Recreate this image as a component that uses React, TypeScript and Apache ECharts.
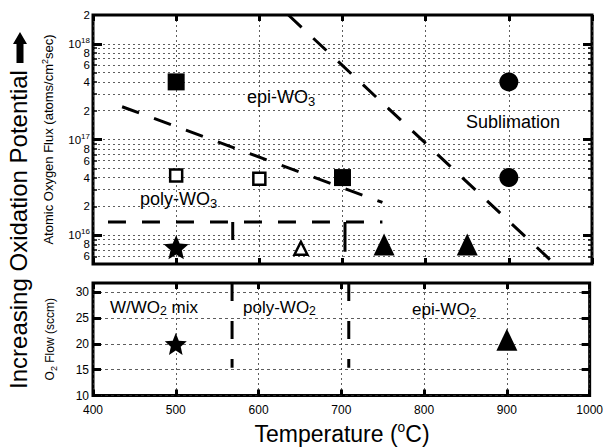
import React, { useEffect, useRef } from "react";
import * as echarts from "echarts";

const FONT = "'Liberation Sans', Arial, Helvetica, sans-serif";

// ---- X axis: temperature (°C) ----
const tempMin = 400;
const tempMax = 1000;

// ---- Top panel: atomic oxygen flux (atoms/cm^2 sec), log scale ----
const fluxMin = 5e15;
const fluxMax = 2e18;
const fluxLabelTicks = [6e15, 8e15, 1e16, 2e16, 4e16, 6e16, 8e16, 1e17, 2e17, 4e17, 6e17, 8e17, 1e18, 2e18];
const fluxMinorTicks = [
  6e15, 7e15, 8e15, 9e15, 1e16, 2e16, 3e16, 4e16, 5e16, 6e16, 7e16, 8e16, 9e16,
  1e17, 2e17, 3e17, 4e17, 5e17, 6e17, 7e17, 8e17, 9e17, 1e18,
];
const fluxMajorTicks = [1e16, 1e17, 1e18];

const epiSquareT = [500, 700];
const epiSquareF = [4e17, 4e16];
const polySquareT = [500, 600];
const polySquareF = [4.2e16, 3.9e16];
const sublimCircleT = [900, 900];
const sublimCircleF = [4e17, 4e16];
const mixStarT = [500];
const mixStarF = [7.5e15];
const polyTriangleT = [650];
const polyTriangleF = [7.3e15];
const epiTriangleT = [750, 850];
const epiTriangleF = [8e15, 8e15];

const epiPolyBoundaryT = [435, 748];
const epiPolyBoundaryF = [2.2e17, 2.2e16];
const sublimBoundaryT = [635, 950];
const sublimBoundaryF = [2e18, 5.5e15];
const wo2BoundaryT = [418, 748];
const wo2BoundaryF = [1.37e16, 1.37e16];
const drop1T = [568, 568];
const drop1F = [1.37e16, 8.9e15];
const drop2T = [703, 703];
const drop2F = [1.37e16, 6.7e15];

// ---- Bottom panel: O2 flow (sccm) ----
const flowMin = 10;
const flowMax = 31.8;
const flowTicks = [10, 15, 20, 25, 30];
const bottomStarT = [500];
const bottomStarF = [20];
const bottomTriT = [900];
const bottomTriF = [20.8];
const mixPolyT = [568, 568];
const mixPolyF = [31.8, 15.4];
const polyEpiT = [709, 709];
const polyEpiF = [31.8, 15.4];

const lg = (v: number) => Math.log10(v);
const ptsLog = (xs: number[], ys: number[]) => xs.map((x, i) => [x, lg(ys[i])]);
const pts = (xs: number[], ys: number[]) => xs.map((x, i) => [x, ys[i]]);

const STAR =
  "path://M50 0 L63.2 31.8 L97.6 34.5 L71.4 57 L79.4 90.5 L50 72.5 L20.6 90.5 L28.6 57 L2.4 34.5 L36.8 31.8 Z";

const dotted = { color: "#333", width: 0.8, type: [2, 3] as any };
const dashed = { color: "#000", width: 3, type: [18, 16] as any };

function logLabel(v: number): string {
  const e = Math.floor(v + 1e-6);
  const m = Math.round(Math.pow(10, v - e));
  if (m === 1) return `{b|10}{s|${e}}`;
  return `{b|${m}}`;
}

export default function App() {
  const ref = useRef<HTMLDivElement>(null);
  useEffect(() => {
    if (!ref.current) return;
    const chart = echarts.init(ref.current, undefined, { renderer: "svg" });

    const xBase = (gridIndex: number, position: string, showLabel: boolean, split: boolean) => ({
      type: "value",
      gridIndex,
      position,
      min: tempMin,
      max: tempMax,
      interval: 100,
      axisLine: { show: false },
      axisTick: { show: true, inside: true, length: 6, lineStyle: { color: "#000", width: 3 } },
      axisLabel: {
        show: showLabel,
        fontSize: 12,
        fontFamily: FONT,
        color: "#000",
        margin: 8,
        formatter: (v: number) => String(v),
      },
      splitLine: { show: split, lineStyle: dotted },
    });

    const yLog = (position: string, ticks: number[], len: number, width: number, labels: boolean) => ({
      type: "value",
      gridIndex: 0,
      position,
      min: lg(fluxMin),
      max: lg(fluxMax),
      axisLine: { show: false },
      axisTick: {
        show: true,
        inside: true,
        length: len,
        customValues: ticks.map(lg),
        lineStyle: { color: "#000", width },
      },
      axisLabel: {
        show: labels,
        customValues: fluxLabelTicks.map(lg),
        formatter: logLabel,
        margin: 3,
        color: "#000",
        fontFamily: FONT,
        fontSize: 11.5,
        rich: {
          b: { fontSize: 11.5, fontFamily: FONT, color: "#000" },
          s: { fontSize: 8, fontFamily: FONT, color: "#000", padding: [0, 0, 7, 0] },
        },
      },
      splitLine: { show: labels, lineStyle: dotted },
    });

    const yFlow = (position: string, labels: boolean) => ({
      type: "value",
      gridIndex: 1,
      position,
      min: flowMin,
      max: flowMax,
      axisLine: { show: false },
      axisTick: {
        show: true,
        inside: true,
        length: 8,
        customValues: flowTicks,
        lineStyle: { color: "#000", width: 3 },
      },
      axisLabel: {
        show: labels,
        customValues: flowTicks,
        margin: 4,
        color: "#000",
        fontFamily: FONT,
        fontSize: 12,
      },
      splitLine: { show: labels, lineStyle: { color: "#333", width: 0.8, type: [3, 3] } },
    });

    const yAxis: any[] = [
      {
        ...yLog("left", fluxMinorTicks, 4, 1.5, true),
        name: "{a|Atomic Oxygen Flux (atoms/cm}{s|2}{a|sec)}",
        nameLocation: "middle",
        nameGap: 36,
        nameRotate: 90,
        nameTextStyle: {
          rich: {
            a: { fontSize: 13, fontFamily: FONT, color: "#000" },
            s: { fontSize: 9, fontFamily: FONT, color: "#000", padding: [0, 0, 8, 0] },
          },
        },
      },
      yLog("left", fluxMajorTicks, 9, 3, false),
      yLog("right", fluxMinorTicks, 4, 1.5, false),
      yLog("right", fluxMajorTicks, 9, 3, false),
      {
        ...yFlow("left", true),
        name: "{a|O}{d|2}{a| Flow (sccm)}",
        nameLocation: "middle",
        nameGap: 35,
        nameRotate: 90,
        nameTextStyle: {
          rich: {
            a: { fontSize: 12, fontFamily: FONT, color: "#000" },
            d: { fontSize: 9, fontFamily: FONT, color: "#000", padding: [7, 0, 0, 0] },
          },
        },
      },
      yFlow("right", false),
    ];

    const lineSeries = (data: number[][], xi: number, yi: number, style: any) => ({
      type: "line",
      xAxisIndex: xi,
      yAxisIndex: yi,
      data,
      showSymbol: false,
      symbol: "none",
      silent: true,
      lineStyle: style,
      z: 3,
    });

    const scatter = (data: number[][], xi: number, yi: number, symbol: string, size: any, item: any) => ({
      type: "scatter",
      xAxisIndex: xi,
      yAxisIndex: yi,
      data,
      symbol,
      symbolSize: size,
      itemStyle: { opacity: 1, ...item },
      z: 5,
    });

    const solid = { color: "#000" };
    const hollow = { color: "#fff", borderColor: "#000", borderWidth: 2.5 };

    const txt = (x: number, y: number, text: string, align: string, size: number, extra: any = {}) => ({
      type: "text",
      x,
      y,
      z: 10,
      style: {
        text,
        align,
        verticalAlign: "middle",
        fontSize: size,
        fontFamily: FONT,
        fill: "#000",
        rich: {
          n: { fontSize: size, fontFamily: FONT, fill: "#000", color: "#000" },
          d: { fontSize: size * 0.72, fontFamily: FONT, color: "#000", padding: [size * 0.5, 0, 0, 0] },
          s: { fontSize: size * 0.6, fontFamily: FONT, color: "#000", padding: [0, 0, size * 0.55, 0] },
        },
        ...extra,
      },
    });

    const option: any = {
      animation: false,
      backgroundColor: "#fff",
      grid: [
        { left: 93, top: 15, width: 499, height: 249, show: true, borderColor: "#000", borderWidth: 3, backgroundColor: "transparent" },
        { left: 93, top: 283, width: 499, height: 112.5, show: true, borderColor: "#000", borderWidth: 3, backgroundColor: "transparent" },
      ],
      xAxis: [
        xBase(0, "bottom", false, true),
        xBase(0, "top", false, false),
        xBase(1, "bottom", true, true),
        xBase(1, "top", false, false),
      ],
      yAxis,
      series: [
        lineSeries(ptsLog(epiPolyBoundaryT, epiPolyBoundaryF), 0, 0, dashed),
        lineSeries(ptsLog(sublimBoundaryT, sublimBoundaryF), 0, 0, dashed),
        lineSeries(ptsLog(wo2BoundaryT, wo2BoundaryF), 0, 0, dashed),
        lineSeries(ptsLog(drop1T, drop1F), 0, 0, { color: "#000", width: 3 }),
        lineSeries(ptsLog(drop2T, drop2F), 0, 0, { color: "#000", width: 3 }),
        lineSeries(pts(mixPolyT, mixPolyF), 2, 4, { color: "#000", width: 3, type: [18, 20] }),
        lineSeries(pts(polyEpiT, polyEpiF), 2, 4, { color: "#000", width: 3, type: [18, 20] }),
        scatter(ptsLog(epiSquareT, epiSquareF), 0, 0, "rect", 17, solid),
        scatter(ptsLog(polySquareT, polySquareF), 0, 0, "rect", 12, hollow),
        scatter(ptsLog(sublimCircleT, sublimCircleF), 0, 0, "circle", 19, solid),
        scatter(ptsLog(mixStarT, mixStarF), 0, 0, STAR, [25, 24], solid),
        scatter(ptsLog(polyTriangleT, polyTriangleF), 0, 0, "triangle", [13, 13], hollow),
        scatter(ptsLog(epiTriangleT, epiTriangleF), 0, 0, "triangle", [21, 22], solid),
        scatter(pts(bottomStarT, bottomStarF), 2, 4, STAR, [22, 22], solid),
        scatter(pts(bottomTriT, bottomTriF), 2, 4, "triangle", [21, 22], solid),
      ],
      graphic: [
        txt(281, 97, "{n|epi-WO}{d|3}", "center", 18),
        txt(513, 122, "Sublimation", "center", 18),
        txt(140, 199, "{n|poly-WO}{d|3}", "left", 18),
        txt(110, 307, "{n|W/WO}{d|2}{n| mix}", "left", 17),
        txt(243, 307, "{n|poly-WO}{d|2}", "left", 17),
        txt(412, 309, "{n|epi-WO}{d|2}", "left", 17),
        txt(342, 434, "{n|Temperature (}{s|o}{n|C)}", "center", 23),
        {
          type: "text",
          x: 18.5,
          y: 229.5,
          rotation: Math.PI / 2,
          z: 10,
          style: {
            text: "Increasing Oxidation Potential",
            align: "center",
            verticalAlign: "middle",
            fontSize: 24,
            fontFamily: FONT,
            fill: "#000",
          },
        },
        {
          type: "polygon",
          z: 10,
          shape: {
            points: [
              [20, 32],
              [27, 44],
              [23.5, 44],
              [23.5, 63],
              [16.5, 63],
              [16.5, 44],
              [13, 44],
            ],
          },
          style: { fill: "#000" },
        },
      ],
    };

    chart.setOption(option);
    return () => chart.dispose();
  }, []);

  return (
    <div
      ref={ref}
      style={{ position: "fixed", left: 0, top: 0, width: 606, height: 448, background: "#fff" }}
    />
  );
}
